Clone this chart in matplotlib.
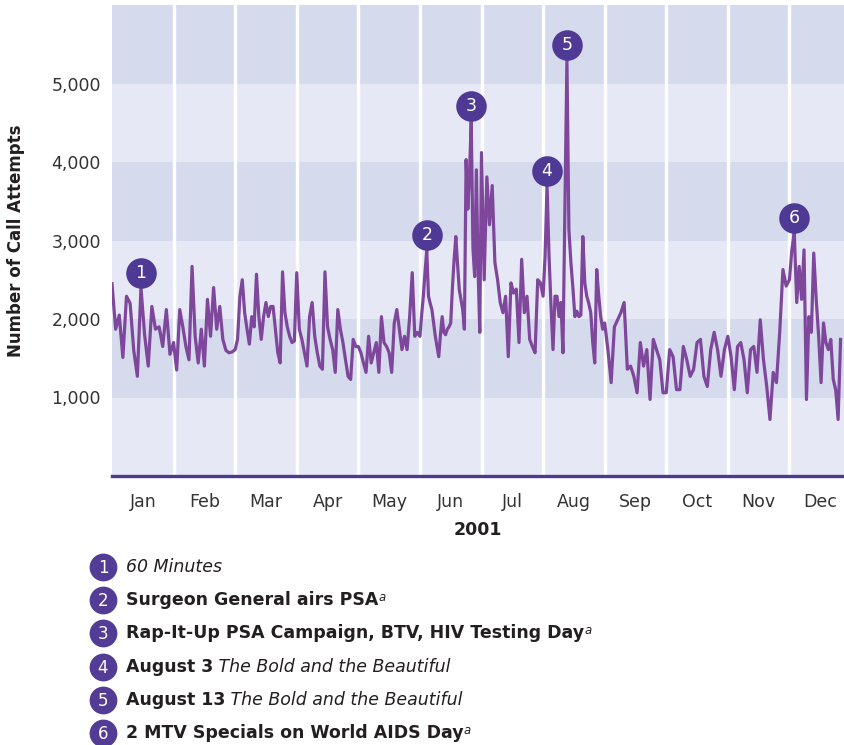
import numpy as np
import matplotlib.pyplot as plt
from matplotlib.transforms import ScaledTranslation

plt.rcParams['font.family'] = 'DejaVu Sans'

# Daily call attempts, 2001
jan = [2450, 1870, 2050, 1510, 2290, 2200, 1600, 1270, 2400, 1800, 1400, 2160, 1870, 1900, 1650, 2120, 1550]
feb = [1700, 1350, 2120, 1900, 1650, 1480, 2670, 1780, 1440, 1870, 1400, 2250, 1780, 2400, 1870, 2160,
       1740, 1600, 1570, 1580]
mar = [1610, 1740, 2290, 2500, 2080, 1870, 1680, 2030, 1900, 2570, 2030, 1740, 2030, 2210, 2030, 2160,
       2160, 1870, 1570, 1440, 2600, 2080, 1900, 1780, 1700, 1720]
apr = [2590, 1870, 1740, 1570, 1400, 2030, 2210, 1780, 1570, 1400, 1360, 2600, 1900, 1740, 1610, 1320,
       2120, 1870, 1700, 1480, 1270, 1230, 1740, 1650]
may = [1650, 1570, 1440, 1320, 1780, 1440, 1570, 1700, 1320, 2030, 1700, 1650, 1570, 1320, 1950, 2120,
       1870, 1610, 1780, 1610, 2030, 2590, 1780, 1830]
jun = [1780, 2050, 2290, 2600, 2880, 2290, 2200, 2120, 1950, 1780, 1650, 1520, 1800, 2030, 1830, 1800,
       1870, 1900, 1950, 2400, 2760, 3050, 2700, 2375, 2250, 2120, 1870, 4030, 3400, 3860, 4520, 2900,
       2540, 3900, 2630, 1830]
jul = [4120, 2500, 3810, 3200, 3700, 2720, 2500, 2210, 2080, 2290, 1520, 2460, 2330, 2380, 1700, 2760,
       2080, 2290, 1740, 1650, 1570, 2500, 2460]
aug = [2290, 2800, 3700, 2800, 2160, 1610, 2290, 2290, 2030, 2210, 1570, 3480, 5300, 3140, 2720, 2400,
       2030, 2100, 2030, 2050, 3050, 2460, 2290, 2200, 2080, 1700, 1440, 2630, 2300, 2030, 1870]
sep = [1950, 1610, 1190, 1900, 1990, 2080, 2210, 1360, 1400, 1270, 1060, 1700, 1400, 1610, 975, 1740,
       1610, 1480, 1060]
oct_ = [1060, 1610, 1520, 1100, 1100, 1650, 1480, 1270, 1360, 1700, 1740, 1270, 1140, 1610, 1830, 1610,
        1270, 1610]
nov = [1780, 1520, 1100, 1650, 1700, 1480, 1060, 1610, 1650, 1320, 1990, 1480, 1140, 720, 1320, 1190,
       1830, 2630, 2420]
dec = [2500, 2880, 3100, 2210, 2670, 2250, 2880, 975, 2030, 1830, 2840, 2250, 1780, 1190, 1950, 1700,
       1610, 1740, 1230, 1100, 720, 1740]
calls = [jan, feb, mar, apr, may, jun, jul, aug, sep, oct_, nov, dec]
months = ['Jan', 'Feb', 'Mar', 'Apr', 'May', 'Jun', 'Jul', 'Aug', 'Sep', 'Oct', 'Nov', 'Dec']

# events (month index + fraction of month)
event_pos = [0.45, 5.1, 5.85, 7.065, 7.39, 11.0]
event_text = [
    [('60 Minutes', 'normal', 'italic')],
    [('Surgeon General airs PSA', 'bold', 'normal'), ('a', 'sup', 'italic')],
    [('Rap-It-Up PSA Campaign, BTV, HIV Testing Day', 'bold', 'normal'), ('a', 'sup', 'italic')],
    [('August 3', 'bold', 'normal'), (' The Bold and the Beautiful', 'normal', 'italic')],
    [('August 13', 'bold', 'normal'), (' The Bold and the Beautiful', 'normal', 'italic')],
    [('2 MTV Specials on World AIDS Day', 'bold', 'normal'), ('a', 'sup', 'italic')],
]

x = []
y = []
for m, vals in enumerate(calls):
    span = 0.87 if m == 11 else 1.0   # chart is cut off in late December
    x.extend(m + span * np.arange(len(vals)) / len(vals))
    y.extend(vals)
x = np.array(x)
y = np.array(y)

dark_band = '#d5daed'
light_band = '#e6e9f5'
line_col = '#7e479c'
dot_col = '#4e3a94'
txt_col = '#231f20'

fig = plt.figure(figsize=(8.44, 7.45), dpi=100)
ax = fig.add_axes([112/844, 269/745, 739/844, 471/745])
ax.set_xlim(0, 12)
ax.set_ylim(0, 6000)

for k in range(6):
    ax.axhspan(k*1000, (k+1)*1000, color=dark_band if k % 2 else light_band, lw=0, zorder=0)
for m in range(1, 12):
    ax.axvline(m, color='white', lw=2.4, zorder=1)

ax.plot(x, y, color=line_col, lw=2.3, zorder=3)

# numbered circles sitting on top of the peaks
up = ScaledTranslation(0, 15/100, fig.dpi_scale_trans)
for n, pos in enumerate(event_pos, start=1):
    near = np.where(np.abs(x - pos) < 0.1)[0]
    i = near[np.argmax(y[near])]
    ax.plot(x[i], y[i], 'o', ms=22, color=dot_col, mec='none', transform=ax.transData + up, zorder=5)
    ax.text(x[i], y[i], str(n), color='white', fontsize=12.5, ha='center', va='center',
            transform=ax.transData + up, zorder=6)

for s in ['left', 'right', 'top']:
    ax.spines[s].set_visible(False)
ax.spines['bottom'].set_color('#4b3b8c')
ax.spines['bottom'].set_linewidth(2.4)
ax.spines['bottom'].set_zorder(4)

ax.set_xticks(np.arange(12) + 0.5)
ax.set_xticklabels(months)
ax.set_yticks([1000, 2000, 3000, 4000, 5000])
ax.set_yticklabels(['1,000', '2,000', '3,000', '4,000', '5,000'])
ax.tick_params(length=0, labelsize=12.5, labelcolor='#333333')
ax.tick_params(axis='x', pad=12)
ax.tick_params(axis='y', pad=8)
ax.set_ylabel('Number of Call Attempts', fontsize=12, fontweight='bold', color=txt_col, labelpad=19)
fig.text(478/844, 1 - 530/745, '2001', fontsize=12.5, fontweight='bold', color=txt_col,
         ha='center', va='center')

# legend of events below the chart
lg = fig.add_axes([0, 0, 1, 200/745])
lg.set_xlim(0, 844)
lg.set_ylim(200, 0)
lg.axis('off')
for n, pieces in enumerate(event_text):
    yy = 22 + n * 33.2
    lg.plot(103, yy, 'o', ms=20, color='#533c95', mec='none')
    lg.text(103, yy + 1, str(n + 1), color='white', fontsize=12, ha='center', va='center')
    prev = None
    for txt, weight, style in pieces:
        if prev is None:
            prev = lg.text(126, yy, txt, fontsize=12.5, fontweight=weight, fontstyle=style,
                           color=txt_col, va='center', ha='left')
        elif weight == 'sup':
            prev = lg.annotate(txt, xy=(1, 1), xycoords=prev, fontsize=8.5, fontstyle=style,
                               color=txt_col, va='top', ha='left')
        else:
            prev = lg.annotate(txt, xy=(1, 0), xycoords=prev, fontsize=12.5, fontweight=weight,
                               fontstyle=style, color=txt_col, va='bottom', ha='left')

fig.savefig('out.png', dpi=100)
